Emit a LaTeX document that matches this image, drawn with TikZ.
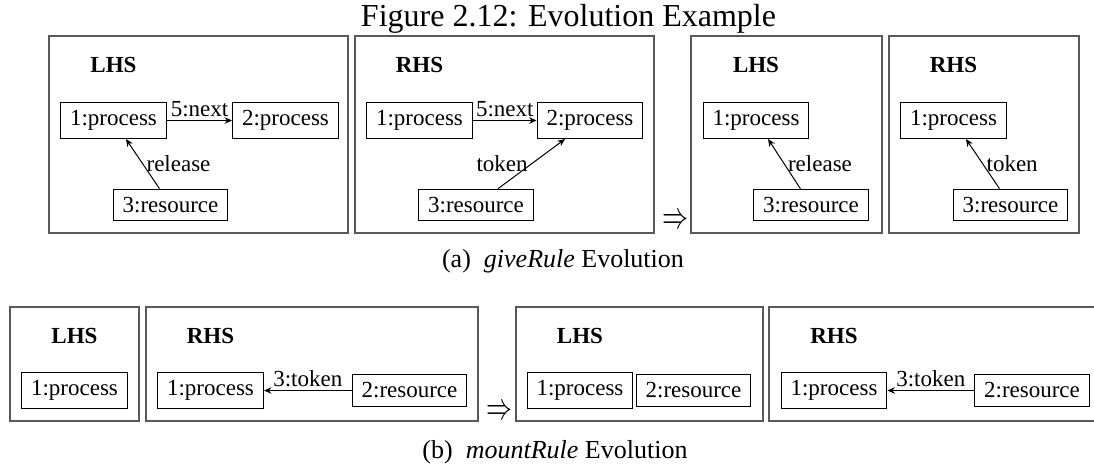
\documentclass[tikz,border=0pt]{standalone}
\usepackage{fontspec}
\setmainfont{Liberation Serif}
\usetikzlibrary{arrows.meta}
\newcommand\boxfont{\fontsize{23pt}{27pt}\selectfont}
\newcommand\headfont{\fontsize{32pt}{38pt}\selectfont}
\newcommand\subcapfont{\fontsize{26pt}{31pt}\selectfont}
\newcommand\evolves{\resizebox{26pt}{14pt}{$\Rightarrow$}}
\begin{document}
\begin{tikzpicture}[x=1pt,y=-1pt,
  panel/.style={draw=black!65,line width=1.2pt},
  obj/.style={draw,line width=1pt,inner xsep=9.5pt,inner ysep=8pt,font=\boxfont},
  side/.style={anchor=base,font=\boxfont\bfseries},
  lbl/.style={font=\boxfont},
  arr/.style={line width=1pt,-{Stealth[length=7.5pt,width=6.5pt,inset=2.5pt]}},
  imp/.style={inner sep=0pt}]
% page area
\clip (0,0) rectangle (1094,468);

% heading
\node[anchor=base,font=\headfont] (head) at (568.5,27) {Figure 2.12: Evolution Example};

% ---------- (a) giveRule ----------
\draw[panel] (49,36) rectangle (348,233);
\draw[panel] (355,36) rectangle (654,233);
\draw[panel] (691,36) rectangle (882,233);
\draw[panel] (889,36) rectangle (1079,233);

% rule LHS
\node[side] (a1h) at (113.5,73) {LHS};
\node[obj] (a1p) at (113.5,120.5) {1:process};
\node[obj] (a1q) at (285.5,120.5) {2:process};
\node[obj] (a1r) at (170.5,205) {3:resource};
\draw[arr] (a1p) -- node[lbl,above] {5:next} (a1q);
\draw[arr] (a1r) -- node[lbl,right] {release} (a1p);

% rule RHS
\node[side] (a2h) at (419.5,73) {RHS};
\node[obj] (a2p) at (419.5,120.5) {1:process};
\node[obj] (a2q) at (590,120.5) {2:process};
\node[obj] (a2r) at (476,205) {3:resource};
\draw[arr] (a2p) -- node[lbl,above] {5:next} (a2q);
\draw[arr] (a2r) -- node[lbl,left] {token} (a2q);

\node[imp] (aimp) at (675.5,221) {\evolves};

% evolved LHS
\node[side] (a3h) at (756,73) {LHS};
\node[obj] (a3p) at (756,120.5) {1:process};
\node[obj] (a3r) at (811,205) {3:resource};
\draw[arr] (a3r) -- node[lbl,right] {release} (a3p);

% evolved RHS
\node[side] (a4h) at (953.5,73) {RHS};
\node[obj] (a4p) at (953.5,120.5) {1:process};
\node[obj] (a4r) at (1010.5,205) {3:resource};
\draw[arr] (a4r) -- node[lbl,right] {token} (a4p);

\node[anchor=base,font=\subcapfont] (capa) at (563,267) {(a)\hspace{0.5em}\textit{giveRule} Evolution};

% ---------- (b) mountRule ----------
\draw[panel] (10,307) rectangle (139,421);
\draw[panel] (146,307) rectangle (478,421);
\draw[panel] (516,307) rectangle (763,421);
\draw[panel] (769,307) rectangle (1102,421);

\node[side] (b1h) at (74.5,343) {LHS};
\node[obj] (b1p) at (74.5,390.5) {1:process};

\node[side] (b2h) at (210.5,343) {RHS};
\node[obj] (b2p) at (210.5,390.5) {1:process};
\node[obj] (b2r) at (409.5,390.5) {2:resource};
\draw[arr] (b2r) -- node[lbl,above] {3:token} (b2p);

\node[imp] (bimp) at (499,412) {\evolves};

\node[side] (b3h) at (580,343) {LHS};
\node[obj] (b3p) at (580,390.5) {1:process};
\node[obj] (b3r) at (693.5,390.5) {2:resource};

\node[side] (b4h) at (834,343) {RHS};
\node[obj] (b4p) at (834,390.5) {1:process};
\node[obj] (b4r) at (1032,390.5) {2:resource};
\draw[arr] (b4r) -- node[lbl,above] {3:token} (b4p);

\node[anchor=base,font=\subcapfont] (capb) at (555,458) {(b)\hspace{0.5em}\textit{mountRule} Evolution};
\end{tikzpicture}
\end{document}
